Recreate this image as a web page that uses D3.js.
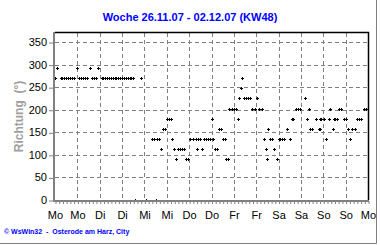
<!DOCTYPE html>
<html>
<head>
<meta charset="utf-8">
<script src="https://cdn.jsdelivr.net/npm/d3@7"></script>
<style>
    body { margin: 0; background: #fff; }
    svg { display: block; font-family: Arial, "Liberation Sans", sans-serif; }
</style>
</head>
<body>
<div id="chart"></div>
<script>
// Windrichtung in Grad, [Stunde seit Mo 0:00, Richtung]
const mo = [[0,270],[1,292.5],[3,270],[4,270],[5,270],[6,270],[7,270],[8,270],[9,270],[10,270],
    [12,292.5],[13,270],[14,270],[15,270],[16,270],[17,270],[19,292.5],[20,270],[21,270],[22,270],[23,292.5]];
const di = [[25,270],[26,270],[27,270],[28,270],[29,270],[30,270],[31,270],[32,270],[33,270],[34,270],
    [35,270],[36,270],[37,270],[38,270],[39,270],[40,270],[41,270],[42,270],[43,0],[46,270]];
const mi = [[49,0],[52,135],[53,135],[54,0],[55,135],[56,135],[57,112.5],[58,157.5],[59,157.5],[60,180],
    [61,180],[62,180],[63,135],[64,112.5],[65,90],[66,112.5],[67,112.5],[68,112.5],[69,112.5],[70.5,90],[71.5,90]];
const don = [[72.5,135],[74,135],[75.5,135],[76,112.5],[77,135],[78,135],[79,112.5],[80,135],[81,135],[82,135],
    [83,135],[84,180],[85,135],[86,112.5],[87,112.5],[88,157.5],[89,157.5],[90,135],[91,135],[92,90],[93,90],
    [93.5,202.5],[95,202.5]];
const fr = [[96,202.5],[97,202.5],[98,180],[99,225],[100,247.5],[100.5,270],[101.5,225],[102.5,225],[103.5,225],
    [104.5,225],[106,202.5],[107.5,202.5],[108.5,225],[109.5,202.5],[111,202.5],[112,135],[113,112.5],[114,90],
    [114.5,157.5],[115.5,135],[116.5,135],[117.5,112.5],[119,90]];
const sa = [[120,135],[121,135],[122,135],[123,135],[124.5,157.5],[126,135],[127,180],[128,180],[129.5,202.5],
    [130.5,202.5],[131.5,202.5],[134,225],[135,180],[136.5,202.5],[137,157.5],[138,157.5],[140,180],[141.5,157.5],
    [142,180],[142.5,157.5],[143,180]];
const so = [[144.5,180],[145.5,135],[147,180],[147.5,202.5],[149,157.5],[149.5,180],[150.5,180],[151.5,180],
    [152.5,202.5],[153.5,202.5],[155,180],[156,180],[157,157.5],[158.5,135],[159.5,157.5],[161,157.5],[162,180],
    [163,180],[164,180],[166,202.5],[167,202.5]];

const tagLabels = ["Mo","Mo","Di","Di","Mi","Mi","Do","Do","Fr","Fr","Sa","Sa","So","So","Mo"];
const yTicks = [0, 50, 100, 150, 200, 250, 300, 350];
const titel = "Woche 26.11.07 - 02.12.07 (KW48)";
const fusszeile = "\u00a9 WsWin32  -  Osterode am Harz, City";

function chart() {
    const W = 380, H = 245;
    const left = 55, right = 368, top = 33, bottom = 200;
    const grau = "#808080";

    const svg = d3.select("#chart")
        .html("")
        .append("svg")
        .attr("width", W)
        .attr("height", H);

    const x = d3.scaleLinear().domain([0, 168]).range([left, right]);
    const y = d3.scaleLinear().domain([0, 370]).range([bottom, top]);

    // outer frame (right + bottom shadow)
    svg.append("path")
        .attr("d", `M${W - 3.5},0V${H - 1.5}H0`)
        .attr("fill", "none")
        .attr("stroke", grau)
        .attr("stroke-width", 1);

    svg.append("text")
        .attr("x", W / 2)
        .attr("y", 21)
        .attr("text-anchor", "middle")
        .style("font-size", "11px")
        .style("font-weight", "bold")
        .style("fill", "#0000ff")
        .text(titel);

    // grid
    const dayTicks = tagLabels.map((d, i) => i * 12);
    svg.append("g")
        .selectAll("line")
        .data(dayTicks.slice(1, -1))
        .join("line")
        .attr("x1", d => Math.round(x(d)) + 0.5)
        .attr("x2", d => Math.round(x(d)) + 0.5)
        .attr("y1", top)
        .attr("y2", bottom)
        .attr("stroke", grau)
        .attr("stroke-dasharray", "4,3");

    svg.append("g")
        .selectAll("line")
        .data(yTicks.slice(1))
        .join("line")
        .attr("x1", left)
        .attr("x2", right)
        .attr("y1", d => Math.round(y(d)) + 0.5)
        .attr("y2", d => Math.round(y(d)) + 0.5)
        .attr("stroke", grau)
        .attr("stroke-dasharray", "4,3");

    // plot border top / right
    svg.append("path")
        .attr("d", `M${left},${top - 0.5}H${right + 0.5}V${bottom}`)
        .attr("fill", "none")
        .attr("stroke", "#000")
        .attr("stroke-width", 1.5);

    // points
    const punkte = [].concat(mo, di, mi, don, fr, sa, so);
    svg.append("g")
        .selectAll("path")
        .data(punkte)
        .join("path")
        .attr("d", d => {
            const cx = Math.round(x(d[0])), cy = Math.round(y(d[1]));
            return `M${cx - 1},${cy}h3v1h-3z M${cx},${cy - 1}h1v3h-1z`;
        })
        .attr("fill", "#000")
        .attr("shape-rendering", "crispEdges");

    // y axis
    const yAxis = svg.append("g")
        .attr("transform", `translate(${left - 2},0)`)
        .call(d3.axisLeft(y).tickValues(yTicks).tickSize(4).tickPadding(2));
    yAxis.select(".domain").remove();
    yAxis.selectAll("line").attr("stroke", grau).attr("transform", "translate(0,0.5)");
    yAxis.selectAll("text")
        .style("font-size", "11px")
        .style("font-family", "Arial, 'Liberation Sans', sans-serif")
        .attr("fill", "#000");

    // x axis: minor ticks every 2h, labels every 12h
    const xMinor = svg.append("g")
        .attr("transform", `translate(0,${bottom + 1})`)
        .call(d3.axisBottom(x).tickValues(d3.range(0, 169, 2)).tickSize(3).tickFormat(""));
    xMinor.select(".domain").remove();
    xMinor.selectAll("line").attr("stroke", grau).attr("transform", "translate(0.5,0)");

    const xAxis = svg.append("g")
        .attr("transform", `translate(0,${bottom})`)
        .call(d3.axisBottom(x).tickValues(dayTicks).tickSize(0).tickPadding(11)
            .tickFormat((d, i) => tagLabels[i]));
    xAxis.select(".domain").remove();
    xAxis.selectAll("text")
        .style("font-size", "11px")
        .style("font-family", "Arial, 'Liberation Sans', sans-serif")
        .attr("fill", "#000");

    // axis lines
    svg.append("path")
        .attr("d", `M${left - 1},${top - 1}V${bottom + 1}H${right + 1}`)
        .attr("fill", "none")
        .attr("stroke", grau)
        .attr("stroke-width", 2);

    svg.append("text")
        .attr("transform", `translate(23,${(top + bottom) / 2}) rotate(-90)`)
        .attr("text-anchor", "middle")
        .attr("xml:space", "preserve")
        .style("white-space", "pre")
        .style("font-size", "12px")
        .style("font-weight", "bold")
        .style("fill", "#a0a0a0")
        .text("Richtung  (\u00b0)");

    svg.append("text")
        .attr("x", 4)
        .attr("y", 234)
        .attr("xml:space", "preserve")
        .style("white-space", "pre")
        .style("font-size", "7px")
        .style("font-weight", "bold")
        .style("fill", "#0000ff")
        .text(fusszeile);
}

window.onload = chart;
</script>
</body>
</html>
